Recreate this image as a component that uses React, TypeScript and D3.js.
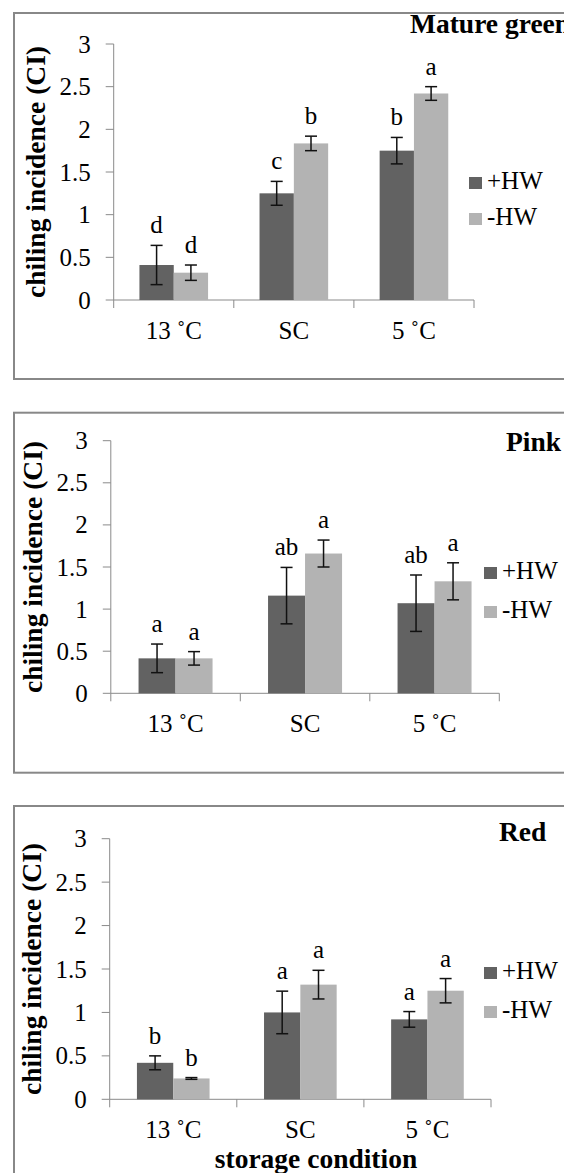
import React from 'react';
import { scaleBand, scaleLinear } from 'd3';

const categories = ['13 ˚C', 'SC', '5 ˚C'];
const series = ['+HW', '-HW'];
const yTicks = [0, 0.5, 1, 1.5, 2, 2.5, 3];
const yTickLabels = ['0', '0.5', '1', '1.5', '2', '2.5', '3'];

const panelTitles = ['Mature green', 'Pink', 'Red'];

// mean values, one array per panel and series
const greenPlus = [0.41, 1.25, 1.75];
const greenMinus = [0.32, 1.835, 2.42];
const pinkPlus = [0.415, 1.16, 1.07];
const pinkMinus = [0.415, 1.66, 1.33];
const redPlus = [0.42, 1.0, 0.92];
const redMinus = [0.24, 1.32, 1.25];

// error bar half-heights
const greenPlusErr = [0.23, 0.14, 0.155];
const greenMinusErr = [0.09, 0.085, 0.08];
const pinkPlusErr = [0.17, 0.335, 0.335];
const pinkMinusErr = [0.08, 0.16, 0.22];
const redPlusErr = [0.08, 0.245, 0.09];
const redMinusErr = [0.01, 0.165, 0.14];

// significance letters
const greenPlusLetters = ['d', 'c', 'b'];
const greenMinusLetters = ['d', 'b', 'a'];
const pinkPlusLetters = ['a', 'ab', 'ab'];
const pinkMinusLetters = ['a', 'a', 'a'];
const redPlusLetters = ['b', 'a', 'a'];
const redMinusLetters = ['b', 'a', 'a'];

const yTitle = 'chiling incidence (CI)';
const xTitle = 'storage condition';

const colors = { '+HW': '#626262', '-HW': '#b3b3b3' };

const width = 564;
const height = 1173;

// layout of each panel box (pixels)
const layouts = [
  { frameTop: 13, frameBottom: 379, x0: 113.7, x1: 474, yTop: 44, yZero: 300,
    titleX: 410, titleY: 33, legX: 469, legY: [177, 213] },
  { frameTop: 412.7, frameBottom: 772.7, x0: 110.8, x1: 499.3, yTop: 440.7, yZero: 693.3,
    titleX: 506, titleY: 451, legX: 484, legY: [567, 606] },
  { frameTop: 806, frameBottom: 1200, x0: 109.7, x1: 491, yTop: 838.7, yZero: 1099.3,
    titleX: 499, titleY: 841, legX: 484, legY: [967, 1006] },
];

const panels = [
  { title: panelTitles[0], values: [greenPlus, greenMinus], errs: [greenPlusErr, greenMinusErr], letters: [greenPlusLetters, greenMinusLetters] },
  { title: panelTitles[1], values: [pinkPlus, pinkMinus], errs: [pinkPlusErr, pinkMinusErr], letters: [pinkPlusLetters, pinkMinusLetters] },
  { title: panelTitles[2], values: [redPlus, redMinus], errs: [redPlusErr, redMinusErr], letters: [redPlusLetters, redMinusLetters] },
];

const Panel = ({ panel, layout, last }) => {
  const x = scaleBand().domain(categories).range([layout.x0, layout.x1]).paddingInner(0).paddingOuter(0);
  const xs = scaleBand().domain(series).range([0, x.bandwidth()]).paddingInner(0).paddingOuter(0.75);
  const y = scaleLinear().domain([0, 3]).range([layout.yZero, layout.yTop]);
  const bw = xs.bandwidth();
  const axisColor = '#8a8a8a';

  return (
    <g>
      <rect x={14} y={layout.frameTop} width={600} height={layout.frameBottom - layout.frameTop}
        fill="none" stroke="#888" strokeWidth={2} />
      {/* y axis */}
      <line x1={layout.x0} x2={layout.x0} y1={y(3)} y2={y(0)} stroke={axisColor} />
      {yTicks.map((t, i) => (
        <g key={t} transform={`translate(0, ${y(t)})`}>
          <line x1={layout.x0 - 8} x2={layout.x0} stroke={axisColor} />
          <text x={layout.x0 - 23} dy="8.5" textAnchor="end" fontSize={25}>{yTickLabels[i]}</text>
        </g>
      ))}
      {/* x axis */}
      <line x1={layout.x0} x2={layout.x1} y1={y(0)} y2={y(0)} stroke={axisColor} />
      {[...categories.map(c => x(c)), layout.x1].map((px, i) => (
        <line key={i} x1={px} x2={px} y1={y(0)} y2={y(0) + 8} stroke={axisColor} />
      ))}
      {categories.map(c => (
        <text key={c} x={x(c) + x.bandwidth() / 2} y={y(0) + 39} textAnchor="middle" fontSize={25}>{c}</text>
      ))}
      {/* bars */}
      {series.map((s, si) => categories.map((c, ci) => {
        const v = panel.values[si][ci];
        const e = panel.errs[si][ci];
        const cx = x(c) + xs(s) + bw / 2;
        return (
          <g key={s + c}>
            <rect x={x(c) + xs(s)} y={y(v)} width={bw} height={y(0) - y(v)} fill={colors[s]} />
            <line x1={cx} x2={cx} y1={y(v + e)} y2={y(v - e)} stroke="#111" strokeWidth={1.5} />
            <line x1={cx - 6} x2={cx + 6} y1={y(v + e)} y2={y(v + e)} stroke="#111" strokeWidth={1.5} />
            <line x1={cx - 6} x2={cx + 6} y1={y(v - e)} y2={y(v - e)} stroke="#111" strokeWidth={1.5} />
            <text x={cx} y={y(v + e) - 12} textAnchor="middle" fontSize={25}>{panel.letters[si][ci]}</text>
          </g>
        );
      }))}
      {/* y title */}
      <text transform={`translate(${layout.x0 - 69}, ${(y(0) + y(3)) / 2}) rotate(-90)`}
        textAnchor="middle" fontSize={27.5} fontWeight="bold">{yTitle}</text>
      {/* panel title */}
      <text x={layout.titleX} y={layout.titleY} fontSize={27.5} fontWeight="bold">{panel.title}</text>
      {/* legend */}
      {series.map((s, i) => (
        <g key={s}>
          <rect x={layout.legX} y={layout.legY[i]} width={13} height={12} fill={colors[s]} />
          <text x={layout.legX + 18} y={layout.legY[i] + 12} fontSize={25}>{s}</text>
        </g>
      ))}
      {last && (
        <text x={316} y={1168} textAnchor="middle" fontSize={27.5} fontWeight="bold">{xTitle}</text>
      )}
    </g>
  );
};

export default function App() {
  return (
    <svg width={width} height={height} style={{ position: 'absolute', left: 0, top: 0, background: '#fff' }}>
      <style>{`text { font-family: 'Liberation Serif', 'Times New Roman', serif; fill: #000; }`}</style>
      <rect width={width} height={height} fill="#fff" />
      {panels.map((p, i) => (
        <Panel key={p.title} panel={p} layout={layouts[i]} last={i === panels.length - 1} />
      ))}
    </svg>
  );
}
